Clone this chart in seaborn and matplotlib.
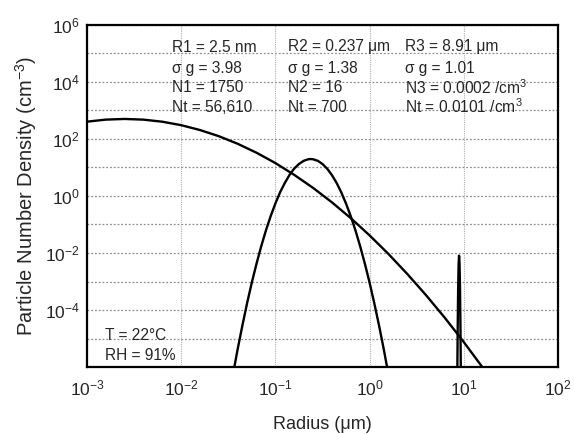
import numpy as np
import pandas as pd
import matplotlib
matplotlib.use("Agg")
import matplotlib.pyplot as plt
import matplotlib.ticker as mticker
import seaborn as sns

# mode 1 (R1 = 2.5 nm), radius in um and number density in cm-3
r1 = [0.001, 0.00158, 0.00251, 0.00398, 0.00631, 0.01, 0.0158, 0.0251, 0.0398,
      0.0631, 0.1, 0.158, 0.251, 0.398, 0.631, 1.0, 1.585, 2.512, 3.981, 6.31,
      10.0, 15.85]
n1 = [405.6, 478.6, 505.4, 477.6, 403.7, 305.5, 206.8, 125.3, 67.9, 32.9, 14.3,
      5.55, 1.93, 0.600, 0.167, 0.0415, 0.00925, 0.00184, 3.29e-4, 5.25e-5,
      7.49e-6, 9.6e-7]

# mode 2 (R2 = 0.237 um)
r2 = [0.0355, 0.0398, 0.0447, 0.0501, 0.0562, 0.0631, 0.0708, 0.0794, 0.0891,
      0.1, 0.112, 0.126, 0.141, 0.158, 0.178, 0.200, 0.224, 0.237, 0.251, 0.282,
      0.316, 0.355, 0.398, 0.447, 0.501, 0.562, 0.631, 0.708, 0.794, 0.891, 1.0,
      1.122, 1.259, 1.413, 1.585]
n2 = [5.6e-7, 4.33e-6, 2.94e-5, 1.76e-4, 9.25e-4, 4.28e-3, 0.01745, 0.0626,
      0.1974, 0.548, 1.340, 2.883, 5.455, 9.087, 13.32, 17.19, 19.51, 19.82,
      19.50, 17.15, 13.27, 9.04, 5.42, 2.858, 1.327, 0.542, 0.1949, 0.0617,
      0.01717, 4.21e-3, 9.08e-4, 1.72e-4, 2.88e-5, 4.23e-6, 5.5e-7]

# mode 3 (R3 = 8.91 um)
r3 = [8.511, 8.610, 8.710, 8.810, 8.91, 9.012, 9.116, 9.222, 9.329]
n3 = [1.8e-7, 1.94e-5, 5.51e-4, 4.11e-3, 8.02e-3, 4.11e-3, 5.51e-4, 1.94e-5, 1.8e-7]

col1 = ["R1 = 2.5 nm", "σ g = 3.98", "N1 = 1750", "Nt = 56,610"]
col2 = ["R2 = 0.237 μm", "σ g = 1.38", "N2 = 16", "Nt = 700"]
col3 = ["R3 = 8.91 μm", "σ g = 1.01", "N3 = 0.0002 /cm$^3$", "Nt = 0.0101 /cm$^3$"]

sns.set_style("white")
plt.rcParams["font.family"] = ["Liberation Sans", "DejaVu Sans"]
plt.rcParams["mathtext.fontset"] = "custom"
plt.rcParams["mathtext.rm"] = "Liberation Sans"
plt.rcParams["mathtext.it"] = "Liberation Sans:italic"

fig = plt.figure(figsize=(5.74, 4.34), dpi=100)
ax = fig.add_axes([87 / 574, 1 - 367 / 434, (558 - 87) / 574, (367 - 25) / 434])

for r, n in [(r1, n1), (r2, n2), (r3, n3)]:
    df = pd.DataFrame({"r": r, "n": n})
    sns.lineplot(data=df, x="r", y="n", ax=ax, color="black", linewidth=1.7,
                 sort=False, estimator=None)

ax.set_xscale("log")
ax.set_yscale("log")
ax.set_xlim(1e-3, 1e2)
ax.set_ylim(1e-6, 1e6)

ax.xaxis.set_major_locator(mticker.FixedLocator([1e-3, 1e-2, 1e-1, 1e0, 1e1, 1e2]))
ax.xaxis.set_minor_locator(mticker.LogLocator(base=10, subs=np.arange(2, 10)))
ax.xaxis.set_minor_formatter(mticker.NullFormatter())
ax.xaxis.set_major_formatter(
    mticker.FuncFormatter(lambda v, p: r"$\mathregular{10^{%d}}$" % round(np.log10(v))))

ax.yaxis.set_major_locator(mticker.FixedLocator([1e-6, 1e-4, 1e-2, 1e0, 1e2, 1e4, 1e6]))
ax.yaxis.set_minor_locator(mticker.FixedLocator([1e-5, 1e-3, 1e-1, 1e1, 1e3, 1e5]))
ax.yaxis.set_minor_formatter(mticker.NullFormatter())
ax.yaxis.set_major_formatter(
    mticker.FuncFormatter(lambda v, p: "" if v < 1e-5 else r"$\mathregular{10^{%d}}$" % round(np.log10(v))))

ax.tick_params(axis="x", which="major", length=0, labelsize=12.5, pad=8)
ax.tick_params(axis="x", which="minor", direction="in", length=3, width=0.8, color="#555555")
ax.tick_params(axis="y", which="both", length=0, labelsize=12.5, pad=5)

ax.grid(True, axis="y", which="both", color="#8f8f8f", linestyle=(0, (1.5, 1.5)), linewidth=0.9)
ax.grid(True, axis="x", which="major", color="#b0b0b0", linestyle=(0, (1, 1)), linewidth=0.8)
ax.set_axisbelow(True)

for s in ax.spines.values():
    s.set_color("black")
    s.set_linewidth(1.6)

ax.set_xlabel("Radius (μm)", fontsize=13, labelpad=13)
ax.set_ylabel("Particle Number Density (cm$^{-3}$)", fontsize=14.5, labelpad=4)

rows = [47, 68, 88, 107]
for x0, col in [(172, col1), (288, col2), (405, col3)]:
    for yy, t in zip(rows, col):
        fig.text(x0 / 574, 1 - yy / 434, t, fontsize=11.2, va="center", ha="left")

fig.text(105 / 574, 1 - 335 / 434, "T = 22°C", fontsize=11.2, va="center", ha="left")
fig.text(105 / 574, 1 - 355 / 434, "RH = 91%", fontsize=11.2, va="center", ha="left")

fig.savefig("out.png", dpi=100)
